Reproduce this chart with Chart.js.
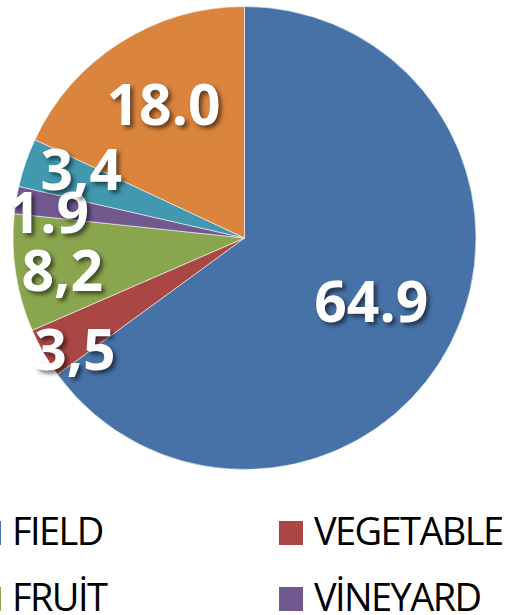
<!DOCTYPE html>
<html>
<head>
<meta charset="utf-8">
<script src="https://cdn.jsdelivr.net/npm/chart.js@4/dist/chart.umd.min.js"></script>
<style>
  html, body { margin: 0; padding: 0; background: #fff; overflow: hidden; }
  body { width: 510px; height: 615px; position: relative; }
  #wrap { position: absolute; left: 0; top: 0; width: 489px; height: 476px; }
  #legend { position: absolute; left: -23px; top: 521px; width: 604px; font-family: "Open Sans", sans-serif; }
  .item { position: absolute; width: 302px; height: 66px; }
  .box { position: absolute; left: 0; top: 0; width: 24px; height: 24px; }
  .txt { position: absolute; left: 35px; top: -10px; font-size: 38px; line-height: 38px; letter-spacing: -1.6px; color: #000; white-space: nowrap; }
</style>
</head>
<body>
<div id="wrap"><canvas id="c"></canvas></div>
<div id="legend"></div>
<script>
const categories = ["FIELD", "VEGETABLE", "FRUİT", "VİNEYARD", "OLİVE", "FALLOW"];
const values = [64.9, 3.5, 8.2, 1.9, 3.4, 18.0];
const valueLabels = ["64.9", "3,5", "8,2", "1.9", "3,4", "18.0"];

const colors = ["#4672A8", "#AA4643", "#89A54E", "#71588F", "#4198AF", "#DB843D"];
// label placement style: radius fraction and angular shift (degrees)
const labelRadius = [0.613, 0.878, 0.80, 0.854, 0.765, 0.673];
const labelShift = [-0.2, -3.6, -1.5, -2.0, 3.8, 1.1];

const labelPlugin = {
  id: 'valueLabels',
  afterDatasetsDraw(chart) {
    const ctx = chart.ctx;
    const meta = chart.getDatasetMeta(0);
    const fs = 57;
    ctx.save();
    ctx.font = "700 " + fs + "px 'Open Sans', sans-serif";
    ctx.textAlign = 'center';
    ctx.textBaseline = 'alphabetic';
    meta.data.forEach((arc, i) => {
      const p = arc.getProps(['x', 'y', 'startAngle', 'endAngle', 'outerRadius'], true);
      const a = (p.startAngle + p.endAngle) / 2 + labelShift[i] * Math.PI / 180;
      const r = p.outerRadius * labelRadius[i];
      const x = p.x + Math.cos(a) * r;
      const y = p.y + Math.sin(a) * r + fs * 0.357;
      ctx.shadowColor = 'rgba(0,0,0,0.55)';
      ctx.shadowBlur = 4;
      ctx.shadowOffsetX = 3;
      ctx.shadowOffsetY = 3;
      ctx.fillStyle = '#fff';
      ctx.fillText(valueLabels[i], x, y);
    });
    ctx.restore();
  }
};

new Chart(document.getElementById('c'), {
  type: 'pie',
  data: {
    labels: categories,
    datasets: [{
      data: values,
      backgroundColor: colors,
      borderColor: 'rgba(255,255,255,0.55)',
      borderWidth: 1
    }]
  },
  options: {
    responsive: true,
    maintainAspectRatio: false,
    animation: false,
    layout: { padding: 6 },
    plugins: { legend: { display: false }, tooltip: { enabled: false } }
  },
  plugins: [labelPlugin]
});

const legend = document.getElementById('legend');
categories.forEach((name, i) => {
  const item = document.createElement('div');
  item.className = 'item';
  item.style.left = (i % 2) * 302 + 'px';
  item.style.top = Math.floor(i / 2) * 66 + 'px';
  const box = document.createElement('div');
  box.className = 'box';
  box.style.background = colors[i];
  const txt = document.createElement('div');
  txt.className = 'txt';
  txt.textContent = name;
  item.appendChild(box);
  item.appendChild(txt);
  legend.appendChild(item);
});
</script>
</body>
</html>
